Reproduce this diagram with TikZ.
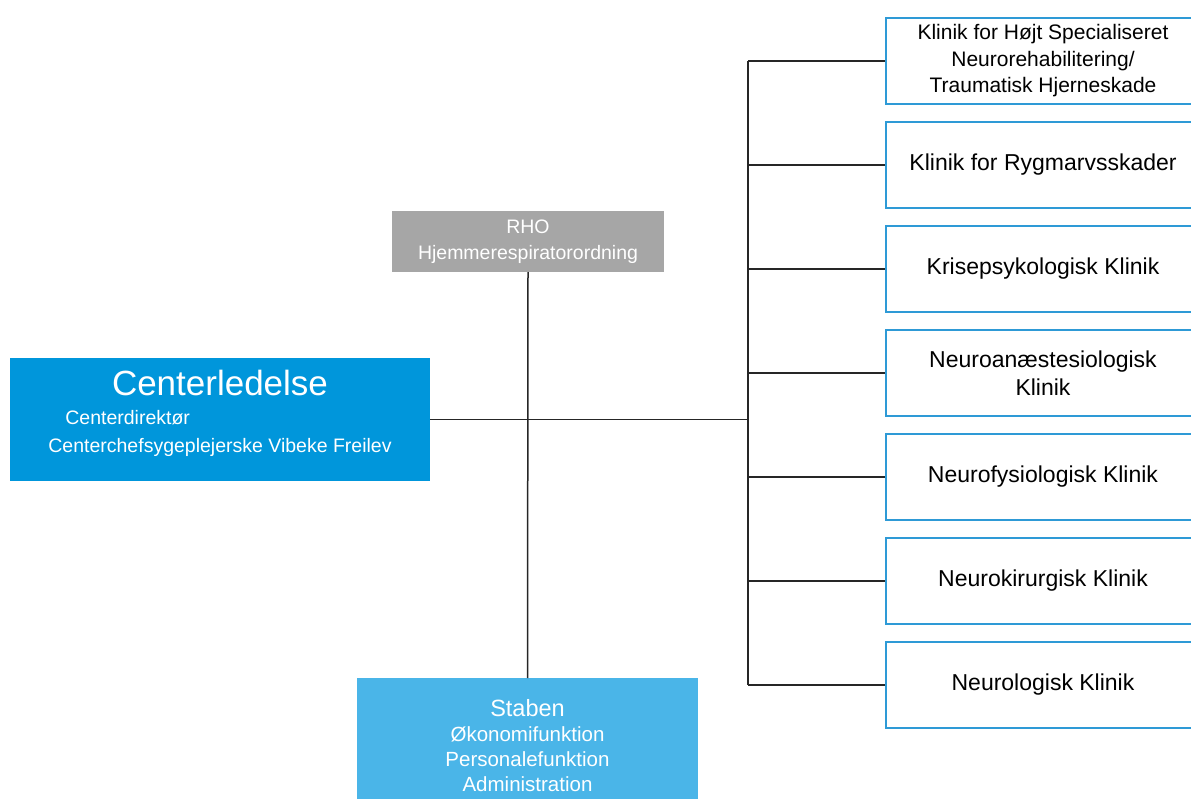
\documentclass[tikz,border=0pt]{standalone}
\usepackage{fontspec}
\setmainfont{Liberation Sans}
\usetikzlibrary{positioning}
\definecolor{ledelseblaa}{HTML}{0096DB}
\definecolor{stabblaa}{HTML}{4AB5E8}
\definecolor{rhograa}{HTML}{A6A6A6}
\definecolor{kantblaa}{HTML}{2E9AD6}
\begin{document}
\begin{tikzpicture}[x=1pt, y=-1pt, node distance=16pt,
  klinik/.style={draw=kantblaa, line width=2pt, fill=white, minimum width=314pt,
    minimum height=86pt, align=center, inner sep=0pt,
    font=\fontsize{23}{28}\selectfont},
  boks/.style={minimum width=#1, inner sep=0pt, text=white, align=center},
  linje/.style={line width=1.5pt, black!85}]
\useasboundingbox (0,0) rectangle (1191,798);
%
\node[boks=420pt, fill=ledelseblaa, minimum height=123pt] (cl) at (220,419.5)
  {{\fontsize{35}{38}\selectfont Centerledelse}\\[7pt]
   {\fontsize{19.5}{29}\selectfont\begin{tabular}{@{}l@{}}
     \hspace*{17pt}Centerdirektør\\[-0.5pt]
     Centerchefsygeplejerske Vibeke Freilev\rule[-16pt]{0pt}{16pt}
   \end{tabular}}};
\node[boks=272pt, fill=rhograa, minimum height=61pt,
  font=\fontsize{19.5}{26}\selectfont] (rho) at (528,241.5)
  {RHO\\Hjemmerespiratorordning};
\node[boks=341pt, fill=stabblaa, minimum height=134pt, anchor=north,
  font=\fontsize{20.5}{25}\selectfont] (stab) at (527.5,678)
  {{\fontsize{23.5}{26}\selectfont Staben}\\Økonomifunktion\\Personalefunktion\\Administration};
%
\node[klinik, anchor=north west, font=\fontsize{21}{26.5}\selectfont] (k1) at (885,17)
  {Klinik for Højt Specialiseret\\Neurorehabilitering/\\Traumatisk Hjerneskade};
\node[klinik, below=of k1] (k2) {Klinik for Rygmarvsskader};
\node[klinik, below=of k2] (k3) {Krisepsykologisk Klinik};
\node[klinik, below=of k3] (k4) {Neuroanæstesiologisk\\Klinik};
\node[klinik, below=of k4] (k5) {Neurofysiologisk Klinik};
\node[klinik, below=of k5] (k6) {Neurokirurgisk Klinik};
\node[klinik, below=of k6] (k7) {Neurologisk Klinik};
%
\coordinate (bus) at (748,419.5);
%
\draw[linje] (cl.east) -- (bus);
\draw[linje] (rho.south) -- (stab.north);
\draw[linje] (k1.west -| bus) -- (k7.west -| bus);
\draw[linje]
  (k1.west -| bus) -- (k1.west)
  (k2.west -| bus) -- (k2.west)
  (k3.west -| bus) -- (k3.west)
  (k4.west -| bus) -- (k4.west)
  (k5.west -| bus) -- (k5.west)
  (k6.west -| bus) -- (k6.west)
  (k7.west -| bus) -- (k7.west);
\end{tikzpicture}
\end{document}
